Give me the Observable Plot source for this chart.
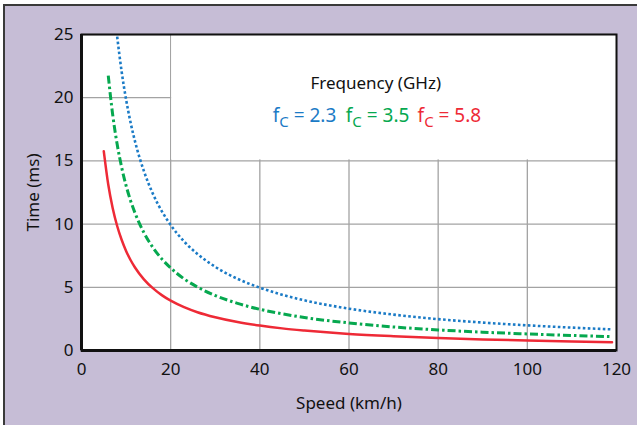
<!DOCTYPE html>
<html><head><meta charset="utf-8">
<script src="https://cdn.jsdelivr.net/npm/d3@7"></script>
<script src="https://cdn.jsdelivr.net/npm/@observablehq/plot@0.6"></script>
<style>
body{margin:0;background:#fff;}
#bg{position:absolute;left:3px;top:4px;width:640px;height:430px;background:#c6bdd6;border-left:2px solid #3a3a3a;border-top:2px solid #3a3a3a;}
#chart{position:absolute;left:0;top:0;}
#chart svg g[aria-label="x-axis tick label"] text, #chart svg g[aria-label="y-axis tick label"] text{font-size:17px;}
#chart svg g[aria-label="x-axis label"] text, #chart svg g[aria-label="y-axis label"] text{font-size:17px;}
</style></head>
<body>
<div id="bg"></div>
<div id="chart"></div>
<script>
const xTicks = [0, 20, 40, 60, 80, 100, 120];
const yTicks = [0, 5, 10, 15, 20, 25];

const speedBlue = [8, 9, 10, 11, 12, 14, 16, 18, 20, 23, 26, 30, 35, 40, 45, 50, 60, 70, 80, 90, 100, 110, 119];
const timeBlue  = [24.83, 22.07, 19.86, 18.05, 16.55, 14.19, 12.41, 11.03, 9.93, 8.63, 7.64, 6.62, 5.67, 4.97, 4.41, 3.97, 3.31, 2.84, 2.48, 2.21, 1.99, 1.81, 1.67];

const speedGreen = [6, 7, 8, 9, 10, 11, 12, 14, 16, 18, 20, 23, 26, 30, 35, 40, 45, 50, 60, 70, 80, 90, 100, 110, 119];
const timeGreen  = [21.75, 18.64, 16.31, 14.50, 13.05, 11.86, 10.88, 9.32, 8.16, 7.25, 6.53, 5.67, 5.02, 4.35, 3.73, 3.26, 2.90, 2.61, 2.18, 1.86, 1.63, 1.45, 1.31, 1.19, 1.10];

const speedRed = [5, 6, 7, 8, 9, 10, 11, 12, 14, 16, 18, 20, 23, 26, 30, 35, 40, 45, 50, 60, 70, 80, 90, 100, 110, 119];
const timeRed  = [15.76, 13.13, 11.26, 9.85, 8.76, 7.88, 7.16, 6.57, 5.63, 4.93, 4.38, 3.94, 3.43, 3.03, 2.63, 2.25, 1.97, 1.75, 1.58, 1.31, 1.13, 0.99, 0.88, 0.79, 0.72, 0.66];

const legendTitle = "Frequency (GHz)";
const legendLabels = ["2.3", "3.5", "5.8"];
const colors = ["#1b7bc6", "#06a84f", "#ee2a36"];

const toPts = (xs, ys) => xs.map((x, i) => ({x, y: ys[i]}));
const blue = toPts(speedBlue, timeBlue);
const green = toPts(speedGreen, timeGreen);
const red = toPts(speedRed, timeRed);

const font = "'Noto Sans', Lato, sans-serif";

const plot = Plot.plot({
  width: 637, height: 425,
  marginLeft: 81, marginTop: 34, marginRight: 21, marginBottom: 75,
  style: {background: "transparent", fontFamily: font, fontSize: "17px", color: "#111"},
  x: {domain: [0, 120]},
  y: {domain: [0, 25]},
  marks: [
    Plot.frame({fill: "white", stroke: null}),
    Plot.ruleX(xTicks, {stroke: "#a3a3a3", strokeWidth: 1.3}),
    Plot.ruleY(yTicks, {stroke: "#a3a3a3", strokeWidth: 1.3}),
    Plot.rect([{x1: 20, x2: 120, y1: 15, y2: 25}], {x1: "x1", x2: "x2", y1: "y1", y2: "y2", fill: "white", insetLeft: 1, insetBottom: 1}),
    Plot.line(blue, {x: "x", y: "y", stroke: colors[0], strokeWidth: 2.6, strokeDasharray: "2.6,2.4", strokeLinecap: "butt", curve: "monotone-x"}),
    Plot.line(green, {x: "x", y: "y", stroke: colors[1], strokeWidth: 3, strokeDasharray: "8,3,2.5,3", strokeLinecap: "butt", curve: "monotone-x"}),
    Plot.line(red, {x: "x", y: "y", stroke: colors[2], strokeWidth: 2.5, curve: "monotone-x"}),
    Plot.frame({stroke: "#111", strokeWidth: 2}),
    Plot.ruleX([0], {stroke: "#111", strokeWidth: 3}),
    Plot.ruleY([0], {stroke: "#111", strokeWidth: 3}),
    Plot.axisX({ticks: xTicks, tickSize: 0, tickPadding: 12, label: "Speed (km/h)", labelAnchor: "center", labelArrow: "none", labelOffset: 58, fontSize: 17}),
    Plot.axisY({ticks: yTicks, tickSize: 0, tickPadding: 8, label: "Time (ms)", labelAnchor: "center", labelArrow: "none", labelOffset: 55, fontSize: 17}),
    Plot.text([legendTitle], {x: 66, y: 21.1, text: d => d, fontSize: 17, fill: "#111", fontFamily: font})
  ]
});
document.getElementById("chart").appendChild(plot);

// Legend entries with subscripts, positioned via the plot's scales
const sx = plot.scale("x"), sy = plot.scale("y");
const svg = d3.select(plot);
const starts = [43, 59.4, 75.5];
legendLabels.forEach((lab, i) => {
  const t = svg.append("text")
    .attr("x", sx.apply(starts[i]))
    .attr("y", sy.apply(18.0))
    .attr("text-anchor", "start")
    .attr("fill", colors[i])
    .attr("font-family", font)
    .attr("font-size", 19);
  t.append("tspan").text("f");
  t.append("tspan").attr("dy", 5).attr("font-size", 15).text("C");
  t.append("tspan").attr("dy", -5).text(" = " + lab);
});
</script>
</body></html>
